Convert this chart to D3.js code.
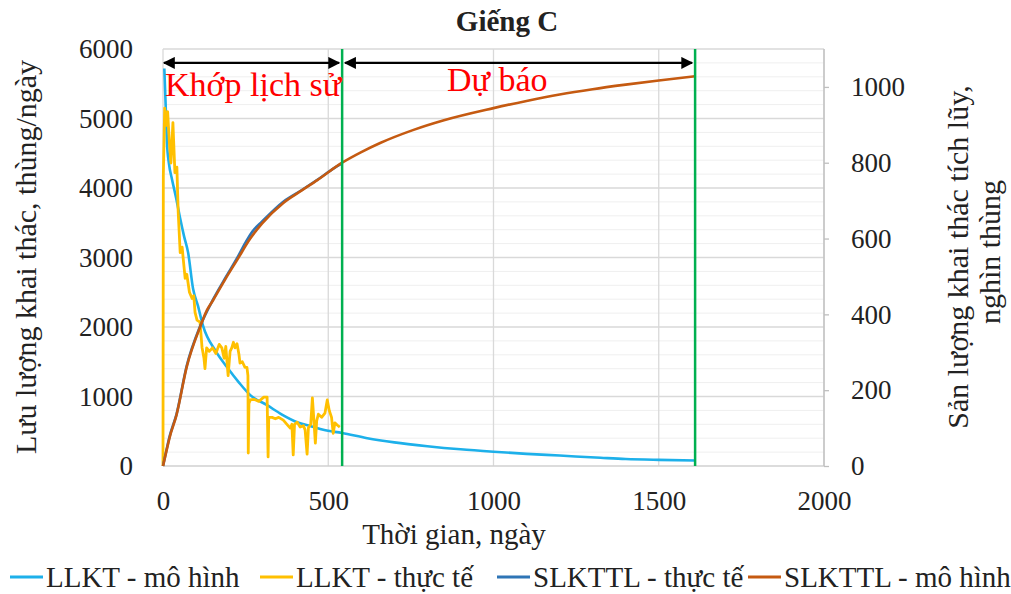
<!DOCTYPE html>
<html>
<head>
<meta charset="utf-8">
<script src="https://cdn.jsdelivr.net/npm/d3@7"></script>
<style>
  body { margin: 0; background: #fff; }
  svg text { font-family: "Liberation Serif", "Times New Roman", serif; fill: #222; }
</style>
</head>
<body>
<div id="chart"></div>
<script>
// LLKT - mô hình (thùng/ngày)
var modelRateDays = [4, 8, 12, 18, 27, 40, 52, 64, 76, 91, 106, 121, 160, 194, 230, 264, 315, 360, 406, 450, 485, 542, 618, 700, 800, 900, 1000, 1100, 1200, 1324, 1400, 1500, 1610];
var modelRate = [5720, 5200, 4650, 4350, 4130, 3850, 3560, 3300, 3070, 2550, 2300, 2020, 1650, 1420, 1200, 1020, 875, 740, 630, 570, 520, 475, 400, 340, 285, 240, 205, 175, 150, 118, 100, 88, 80];

// LLKT - thực tế (thùng/ngày)
var actualRateDays = [0, 1, 5, 10, 14, 20, 24, 30, 36, 42, 46, 52, 58, 61, 67, 72, 80, 88, 93, 97, 103, 112, 118, 124, 127, 132, 140, 150, 160, 170, 178, 185, 190, 197, 203, 208, 213, 218, 224, 230, 233, 240, 248, 254, 257, 258, 260, 264, 275, 290, 305, 315, 318, 320, 330, 340, 350, 364, 375, 385, 390, 394, 398, 406, 415, 425, 430, 436, 440, 447, 452, 456, 461, 465, 470, 480, 490, 497, 503, 510, 515, 520, 527, 535];
var actualRate = [0, 4180, 5150, 4900, 5100, 4600, 4360, 4940, 4220, 4300, 3650, 3070, 3150, 2990, 2700, 2760, 2500, 2410, 2450, 2210, 2100, 2070, 1710, 1550, 1400, 1700, 1650, 1700, 1620, 1750, 1700, 1550, 1720, 1300, 1650, 1700, 1780, 1700, 1760, 1600, 1480, 1500, 1420, 1420, 1300, 186, 900, 950, 960, 930, 990, 990, 130, 700, 700, 680, 700, 660, 600, 545, 600, 160, 600, 630, 560, 580, 520, 170, 550, 600, 980, 700, 330, 650, 745, 700, 760, 950, 800, 700, 470, 620, 590, 560];

// SLKTTL - thực tế (nghìn thùng)
var actualCumDays = [0, 10, 20, 41, 72, 112, 152, 190, 224, 250, 270, 300, 364, 420, 467, 520, 542];
var actualCum = [0, 40, 78, 137, 265, 368, 440, 498, 548, 590, 618, 645, 697, 728, 755, 787, 798];

// SLKTTL - mô hình (nghìn thùng)
var modelCumDays = [0, 10, 20, 41, 72, 112, 133, 152, 190, 224, 264, 300, 364, 420, 467, 542, 600, 657, 756, 850, 1000, 1100, 1200, 1300, 1400, 1500, 1610];
var modelCum = [0, 38, 75, 135, 262, 366, 411, 438, 495, 543, 600, 640, 694, 727, 754, 800, 828, 852, 886, 912, 944, 963, 980, 994, 1006, 1017, 1028];

// phase boundaries (days) and labels
var phaseBounds = [0, 542, 1610];
var phaseLabels = ["Khớp lịch sử", "Dự báo"];
var arrowLevel = 5800;

var xTicks = [0, 500, 1000, 1500, 2000];
var yLeftTicks = [0, 1000, 2000, 3000, 4000, 5000, 6000];
var yRightTicks = [0, 200, 400, 600, 800, 1000];

var seriesNames = ["LLKT - mô hình", "LLKT - thực tế", "SLKTTL - thực tế", "SLKTTL - mô hình"];
var seriesColors = ["#1DB0EA", "#FFC000", "#2E75B6", "#C55A11"];

var SERIF = '"Liberation Serif", "Times New Roman", serif';

var W = 1011, H = 594;
var svg = d3.select("#chart").append("svg").attr("width", W).attr("height", H);

var x = d3.scaleLinear().domain([0, 2000]).range([163, 824]);
var yL = d3.scaleLinear().domain([0, 6000]).range([466, 49]);
var yR = d3.scaleLinear().domain([0, 1100]).range([466, 49]);

// minor / major gridlines
svg.append("g").selectAll("line").data(d3.range(200, 6000, 200).filter(function(v) { return v % 1000 != 0; }))
  .join("line")
  .attr("x1", x(0)).attr("x2", x(2000))
  .attr("y1", function(d) { return yL(d); }).attr("y2", function(d) { return yL(d); })
  .attr("stroke", "#EFEFEF").attr("stroke-width", 1);
svg.append("g").selectAll("line").data(yLeftTicks.slice(1))
  .join("line")
  .attr("x1", x(0)).attr("x2", x(2000))
  .attr("y1", function(d) { return yL(d); }).attr("y2", function(d) { return yL(d); })
  .attr("stroke", "#D9D9D9").attr("stroke-width", 1.3);
svg.append("g").selectAll("line").data(xTicks)
  .join("line")
  .attr("x1", function(d) { return x(d); }).attr("x2", function(d) { return x(d); })
  .attr("y1", yL(0)).attr("y2", yL(6000))
  .attr("stroke", "#D9D9D9").attr("stroke-width", 1.3);
// bottom axis line
svg.append("line").attr("x1", x(0)).attr("x2", x(2000)).attr("y1", yL(0)).attr("y2", yL(0))
  .attr("stroke", "#D0D0D0").attr("stroke-width", 1.5);

// axes
var fmt = d3.format("d");
var gx = svg.append("g").attr("transform", "translate(0," + yL(0) + ")")
  .call(d3.axisBottom(x).tickValues(xTicks).tickFormat(fmt).tickSize(0).tickPadding(25));
var gl = svg.append("g").attr("transform", "translate(" + x(0) + ",0)")
  .call(d3.axisLeft(yL).tickValues(yLeftTicks).tickFormat(fmt).tickSize(0).tickPadding(30));
var gr = svg.append("g").attr("transform", "translate(" + x(2000) + ",0)")
  .call(d3.axisRight(yR).tickValues(yRightTicks).tickFormat(fmt).tickSize(5).tickPadding(22));
[gx, gl, gr].forEach(function(g) {
  g.attr("font-family", SERIF).attr("font-size", 27);
  g.select(".domain").remove();
  g.selectAll("text").style("font-family", SERIF).style("font-size", "27px").style("fill", "#222");
});
gr.selectAll(".tick line").attr("stroke", "#BFBFBF").attr("stroke-width", 1.3);
svg.append("line").attr("x1", x(2000)).attr("x2", x(2000)).attr("y1", yL(0)).attr("y2", yL(6000))
  .attr("stroke", "#BFBFBF").attr("stroke-width", 1.3);

// series
var lineL = d3.line().x(function(d) { return x(d[0]); }).y(function(d) { return yL(d[1]); });
var smoothL = d3.line().curve(d3.curveMonotoneX).x(function(d) { return x(d[0]); }).y(function(d) { return yL(d[1]); });
var smoothR = d3.line().curve(d3.curveMonotoneX).x(function(d) { return x(d[0]); }).y(function(d) { return yR(d[1]); });

svg.append("path").datum(d3.zip(modelRateDays, modelRate))
  .attr("d", smoothL).attr("fill", "none").attr("stroke", seriesColors[0]).attr("stroke-width", 2.6);
svg.append("path").datum(d3.zip(actualRateDays, actualRate))
  .attr("d", lineL).attr("fill", "none").attr("stroke", seriesColors[1]).attr("stroke-width", 2.8)
  .attr("stroke-linejoin", "round");
svg.append("path").datum(d3.zip(actualCumDays, actualCum))
  .attr("d", smoothR).attr("fill", "none").attr("stroke", seriesColors[2]).attr("stroke-width", 2.6);
svg.append("path").datum(d3.zip(modelCumDays, modelCum))
  .attr("d", smoothR).attr("fill", "none").attr("stroke", seriesColors[3]).attr("stroke-width", 2.6);

// phase boundaries
svg.append("g").selectAll("line").data(phaseBounds.slice(1))
  .join("line")
  .attr("x1", function(d) { return x(d); }).attr("x2", function(d) { return x(d); })
  .attr("y1", yL(0)).attr("y2", yL(6000))
  .attr("stroke", "#00B050").attr("stroke-width", 2.5);

// arrows
var defs = svg.append("defs");
defs.append("marker").attr("id", "arr").attr("viewBox", "0 0 10 10")
  .attr("refX", 9).attr("refY", 5).attr("markerWidth", 5).attr("markerHeight", 5)
  .attr("markerUnits", "strokeWidth").attr("orient", "auto-start-reverse")
  .append("path").attr("d", "M0,0L10,5L0,10z").attr("fill", "#000");

for (var i = 0; i < phaseLabels.length; i++) {
  var a = x(phaseBounds[i]) + (i == 0 ? 1 : 3), b = x(phaseBounds[i + 1]) - 3;
  svg.append("line").attr("x1", a).attr("x2", b)
    .attr("y1", yL(arrowLevel)).attr("y2", yL(arrowLevel))
    .attr("stroke", "#000").attr("stroke-width", 2.4)
    .attr("marker-start", "url(#arr)").attr("marker-end", "url(#arr)");
}
svg.append("text").attr("x", x(phaseBounds[0]) + 2).attr("y", 96)
  .style("font-family", SERIF).style("font-size", "34px").style("fill", "#FF0000").text(phaseLabels[0]);
svg.append("text").attr("x", 447).attr("y", 91)
  .style("font-family", SERIF).style("font-size", "34px").style("fill", "#FF0000").text(phaseLabels[1]);

// titles
svg.append("text").attr("x", 507).attr("y", 31).attr("text-anchor", "middle")
  .style("font-family", SERIF).style("font-size", "29px").style("font-weight", "bold").text("Giếng C");
svg.append("text").attr("x", 454).attr("y", 544).attr("text-anchor", "middle")
  .style("font-family", SERIF).style("font-size", "29px").text("Thời gian, ngày");
svg.append("text").attr("transform", "translate(36,257) rotate(-90)").attr("text-anchor", "middle")
  .style("font-family", SERIF).style("font-size", "30px").text("Lưu lượng khai thác, thùng/ngày");
svg.append("text").attr("transform", "translate(968,257) rotate(-90)").attr("text-anchor", "middle")
  .style("font-family", SERIF).style("font-size", "30px").text("Sản lượng khai thác tích lũy,");
svg.append("text").attr("transform", "translate(1000,252) rotate(-90)").attr("text-anchor", "middle")
  .style("font-family", SERIF).style("font-size", "30px").text("nghìn thùng");

// legend
var legendX = [10, 260, 497, 748];
var lg = svg.append("g").selectAll("g").data(seriesNames).join("g")
  .attr("transform", function(d, i) { return "translate(" + legendX[i] + ",577)"; });
lg.append("line").attr("x1", 0).attr("x2", 33).attr("y1", 0).attr("y2", 0)
  .attr("stroke", function(d, i) { return seriesColors[i]; }).attr("stroke-width", 3);
lg.append("text").attr("x", 36).attr("y", 10)
  .style("font-family", SERIF).style("font-size", "29px").text(function(d) { return d; });
</script>
</body>
</html>
